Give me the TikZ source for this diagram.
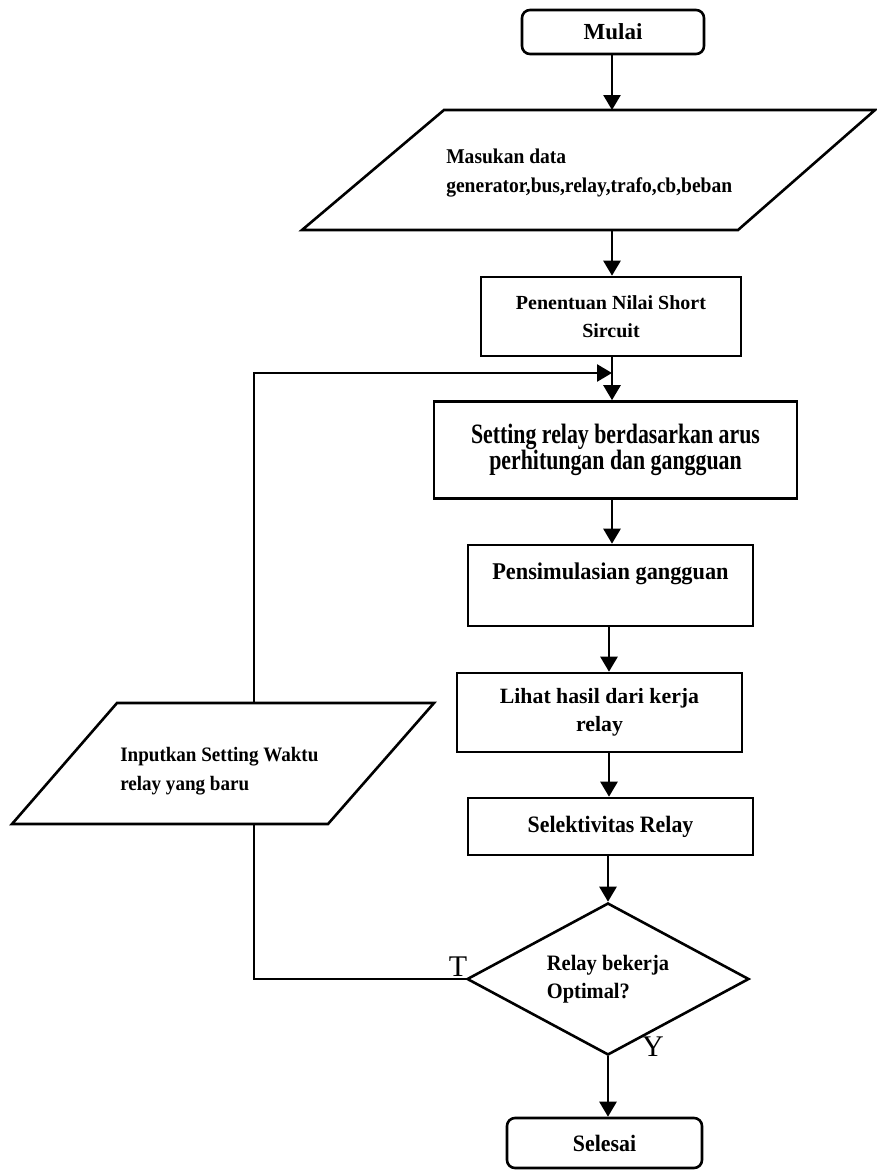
\documentclass[tikz,border=0pt]{standalone}
\usepackage{fontspec}
\setmainfont{Liberation Serif}
\newfontfamily\fcond[FakeStretch=0.78]{Liberation Serif}
\newfontfamily\fnarrow[FakeStretch=0.93]{Liberation Serif}
\usetikzlibrary{shapes.geometric,arrows.meta}
\begin{document}
\begin{tikzpicture}[x=1pt,y=-1pt,line width=2.6pt,
  box/.style={draw,rectangle,inner sep=0pt,align=center},
  term/.style={draw,rectangle,rounded corners=8pt,inner sep=0pt,align=center},
  txt/.style={inner sep=0pt,align=left},
  arr/.style={-{Triangle[length=15pt,width=17pt]}},
  lab/.style={inner sep=0pt,font=\fontsize{30}{30}\selectfont}]
\useasboundingbox (0,0) rectangle (876,1173);
\coordinate (colA) at (612,0);
\coordinate (colB) at (609,0);
% start
\node[term,minimum width=182pt,minimum height=44pt,font=\bfseries\fontsize{23}{24}\selectfont] (start) at (613,32) {Mulai};
% input 1
\draw (444,110) -- (875,110) -- (738,230) -- (302,230) -- cycle;
\coordinate (p1n) at (612,110);
\coordinate (p1s) at (612,230);
\node[txt,anchor=west,font=\fnarrow\bfseries\fontsize{21}{29}\selectfont] (p1) at (445,173) {Masukan data\\generator,bus,relay,trafo,cb,beban};
% process boxes
\node[box,minimum width=260pt,minimum height=79pt,font=\bfseries\fontsize{20}{28.5}\selectfont] (pen) at (611,316.5) {Penentuan Nilai Short\\Sircuit};
\node[box,minimum width=363pt,minimum height=97pt,font=\fcond\bfseries\fontsize{28}{26}\selectfont] (set) at (615.5,450) {Setting relay berdasarkan arus\\perhitungan dan gangguan};
\node[box,minimum width=285pt,minimum height=81pt,font=\fnarrow\bfseries\fontsize{24}{28}\selectfont] (pens) at (610.5,585.5) {Pensimulasian gangguan\\\mbox{}};
\node[box,minimum width=285pt,minimum height=79pt,font=\bfseries\fontsize{21.8}{28}\selectfont] (lihat) at (599.5,712.5) {Lihat hasil dari kerja\\relay};
\node[box,minimum width=285pt,minimum height=57pt,font=\fnarrow\bfseries\fontsize{23.5}{28}\selectfont] (sel) at (610.5,826.5) {Selektivitas Relay};
% decision
\node[draw,diamond,aspect=1.855,minimum width=282pt,minimum height=152pt,inner sep=0pt,align=left,font=\fnarrow\bfseries\fontsize{22}{28}\selectfont] (dec) at (608,979) {Relay bekerja\\Optimal?};
% end
\node[term,minimum width=195pt,minimum height=50pt,font=\fnarrow\bfseries\fontsize{23.5}{28}\selectfont] (end) at (604.5,1143) {Selesai};
% input 2
\draw (117,703) -- (434,703) -- (328,824) -- (12,824) -- cycle;
\coordinate (p2n) at (254,703);
\coordinate (p2s) at (254,824);
\node[txt,anchor=west,font=\fnarrow\bfseries\fontsize{20.5}{29}\selectfont] (p2) at (119,771) {Inputkan Setting Waktu\\relay yang baru};
\coordinate (fb) at (612,373);
% connectors
\draw[arr] (start.south -| colA) -- (p1n);
\draw[arr] (p1s) -- (pen.north -| colA);
\draw[arr] (pen.south -| colA) -- (set.north -| colA);
\draw[arr] (set.south -| colA) -- (pens.north -| colA);
\draw[arr] (pens.south -| colB) -- (lihat.north -| colB);
\draw[arr] (lihat.south -| colB) -- (sel.north -| colB);
\draw[arr] (sel.south -| dec.north) -- (dec.north);
\draw[arr] (dec.south) -- (end.north -| dec.south);
\draw (dec.west) -- (dec.west -| p2s) -- (p2s);
\draw[arr] (p2n) -- (p2n |- fb) -- (fb);
% labels
\node[lab] (tlab) at (458,967) {T};
\node[lab] (ylab) at (653,1047) {Y};
\end{tikzpicture}
\end{document}
